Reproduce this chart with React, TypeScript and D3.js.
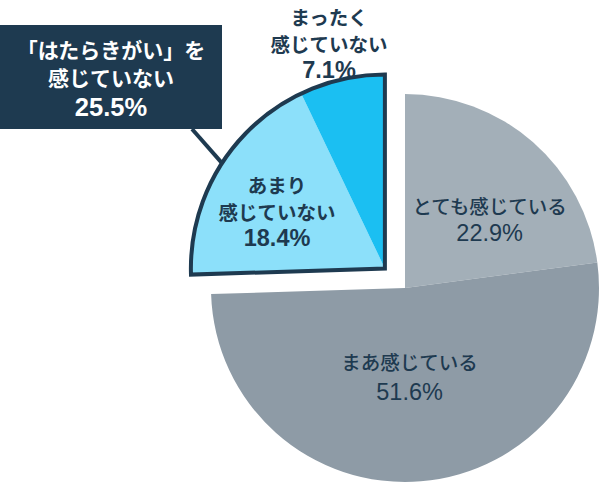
import React from "react";
import * as d3 from "d3";

const categories = ["とても感じている", "まあ感じている", "あまり感じていない", "まったく感じていない"];
const values = [22.9, 51.6, 18.4, 7.1];
const labelLines = [
  ["とても感じている", "22.9%"],
  ["まあ感じている", "51.6%"],
  ["あまり", "感じていない", "18.4%"],
  ["まったく", "感じていない", "7.1%"],
];
const calloutLines = ["「はたらきがい」を", "感じていない", "25.5%"];

const W = 600, H = 483;
const cx = 405, cy = 288, R = 194;
const explode = 28;
const colors = ["#a3afb8", "#8e9ba6", "#8ce0fa", "#1bbff2"];
const navy = "#1e3a50";
const jp = "'Noto Sans CJK JP', 'Noto Sans', sans-serif";
const num = "'Liberation Sans', Arial, sans-serif";
// label placement per slice: radius and angular tweak (radians), line height, weight
const labelR = [109, 89, 122, 232];
const labelTweak = [0.17, 0.03, -0.06, -0.02];
const lineH = [28, 30, 26.5, 26.5];
const weights = [500, 500, 700, 700];

export default function App() {
  const pie = d3.pie<number>().sort(null).startAngle(0).endAngle(2 * Math.PI);
  const arcs = pie(values);
  const arc = d3.arc<d3.PieArcDatum<number>>().innerRadius(0).outerRadius(R);
  const blue = arcs.slice(2);
  const gStart = blue[0].startAngle, gEnd = blue[blue.length - 1].endAngle;
  const gMid = (gStart + gEnd) / 2;
  const ox = explode * Math.sin(gMid), oy = -explode * Math.cos(gMid);
  const outline = d3.arc()({ innerRadius: 0, outerRadius: R, startAngle: gStart, endAngle: gEnd } as any) as string;

  const labelPos = (i: number) => {
    const a = arcs[i];
    const m = (a.startAngle + a.endAngle) / 2 + labelTweak[i];
    const baseX = i >= 2 ? cx + ox : cx, baseY = i >= 2 ? cy + oy : cy;
    return [baseX + labelR[i] * Math.sin(m), baseY - labelR[i] * Math.cos(m)];
  };

  const pa = 302.9 * Math.PI / 180;
  const px = cx + ox + R * Math.sin(pa), py = cy + oy - R * Math.cos(pa);
  const boxX = 0, boxY = 25, boxW = 222, boxH = 104;

  return (
    <svg width={W} height={H} style={{ position: "absolute", left: 0, top: 0, background: "#fff" }}
      fontFamily={jp}>
      <g transform={`translate(${cx},${cy})`}>
        {arcs.slice(0, 2).map((a, i) => (
          <path key={i} d={arc(a) as string} fill={colors[i]} />
        ))}
      </g>
      <g transform={`translate(${cx + ox},${cy + oy})`}>
        {blue.map((a, i) => (
          <path key={i} d={arc(a) as string} fill={colors[i + 2]} />
        ))}
        <path d={outline} fill="none" stroke={navy} strokeWidth={4} strokeLinejoin="miter" />
      </g>
      {labelLines.map((lines, i) => {
        const [x, y] = labelPos(i);
        const n = lines.length;
        return (
          <text key={i} x={x} y={y} textAnchor="middle" fill={navy} fontSize={19.5} fontWeight={weights[i]}>
            {lines.map((t, j) => {
              const isNum = j === n - 1;
              return (
                <tspan key={j} x={x} y={y + (j - (n - 1) / 2) * lineH[i]} dominantBaseline="central"
                  fontFamily={isNum ? num : jp} fontSize={isNum ? 23.5 : 19.5}
                  fontWeight={isNum ? (weights[i] >= 700 ? 700 : 400) : weights[i]}>{t}</tspan>
              );
            })}
          </text>
        );
      })}
      <line x1={192} y1={boxY + boxH} x2={px} y2={py} stroke={navy} strokeWidth={4} />
      <rect x={boxX} y={boxY} width={boxW} height={boxH} fill={navy} />
      <text textAnchor="middle" fill="#fff" fontSize={21} fontWeight={700}>
        {calloutLines.map((t, j) => {
          const isNum = j === calloutLines.length - 1;
          return (
            <tspan key={j} x={boxX + boxW / 2} y={boxY + boxH / 2 + (j - 1) * 28.5 + (isNum ? 1 : 0)} dominantBaseline="central"
              fontFamily={isNum ? num : jp} fontSize={isNum ? 25.5 : 21}>{t}</tspan>
          );
        })}
      </text>
    </svg>
  );
}
